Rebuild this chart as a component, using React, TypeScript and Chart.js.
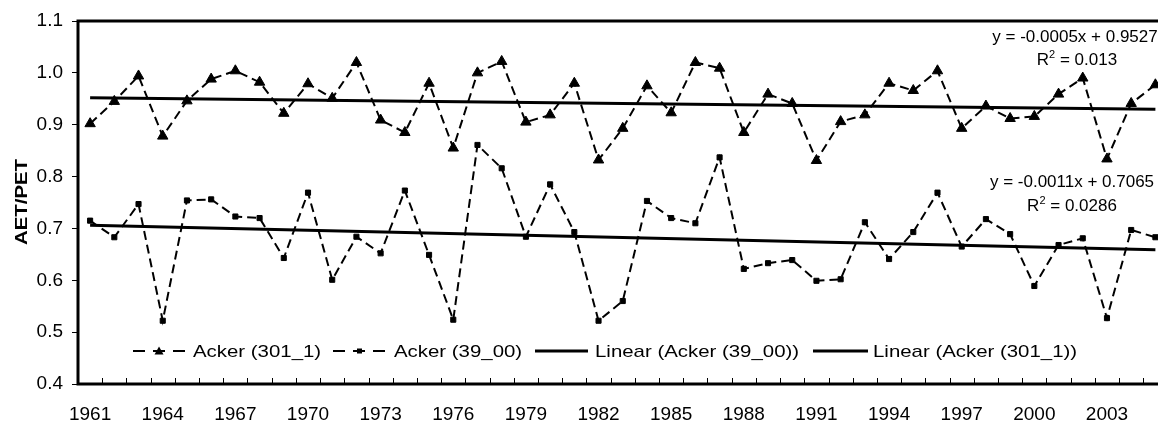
import React, { useEffect, useRef } from 'react';
import { Chart, registerables } from 'chart.js';

Chart.register(...registerables);

const FONT = '"Liberation Sans", Arial, sans-serif';

const years = [
  '1961', '1962', '1963', '1964', '1965', '1966', '1967', '1968', '1969', '1970',
  '1971', '1972', '1973', '1974', '1975', '1976', '1977', '1978', '1979', '1980',
  '1981', '1982', '1983', '1984', '1985', '1986', '1987', '1988', '1989', '1990',
  '1991', '1992', '1993', '1994', '1995', '1996', '1997', '1998', '1999', '2000',
  '2001', '2002', '2003', '2004', '2005',
];

const acker301 = [
  0.902, 0.945, 0.994, 0.878, 0.946, 0.988, 1.004, 0.982, 0.922, 0.979,
  0.951, 1.020, 0.909, 0.885, 0.980, 0.855, 1.000, 1.022, 0.905, 0.919,
  0.980, 0.832, 0.893, 0.975, 0.923, 1.020, 1.009, 0.885, 0.959, 0.941,
  0.831, 0.906, 0.919, 0.980, 0.966, 1.004, 0.893, 0.936, 0.912, 0.916,
  0.959, 0.990, 0.834, 0.941, 0.977,
];

const acker3900 = [
  0.715, 0.683, 0.747, 0.522, 0.754, 0.756, 0.723, 0.720, 0.643, 0.769,
  0.601, 0.684, 0.652, 0.773, 0.649, 0.524, 0.861, 0.816, 0.684, 0.785,
  0.693, 0.522, 0.560, 0.753, 0.720, 0.710, 0.837, 0.622, 0.633, 0.639,
  0.599, 0.602, 0.712, 0.641, 0.693, 0.769, 0.665, 0.718, 0.689, 0.589,
  0.668, 0.681, 0.527, 0.697, 0.683,
];

// trend line end values (first and last year)
const trend301Ends = [0.952, 0.930];
const trend3900Ends = [0.706, 0.659];

const yTicks = [0.4, 0.5, 0.6, 0.7, 0.8, 0.9, 1.0, 1.1];

const legendLabels = [
  'Acker (301_1)',
  'Acker (39_00)',
  'Linear (Acker (39_00))',
  'Linear (Acker (301_1))',
];

const trendLabels301 = ['y = -0.0005x + 0.9527', '0.013'];
const trendLabels3900 = ['y = -0.0011x + 0.7065', '0.0286'];

function endsToSeries(ends: number[]) {
  return years.map((_, i) => (i === 0 ? ends[0] : i === years.length - 1 ? ends[1] : null));
}

function drawText(
  ctx: CanvasRenderingContext2D,
  text: string,
  x: number,
  y: number,
  font: string,
  align: CanvasTextAlign,
  sx = 1,
  rot = 0
) {
  ctx.save();
  ctx.translate(x, y);
  if (rot) ctx.rotate(rot);
  ctx.scale(sx, 1);
  ctx.font = font;
  ctx.textAlign = align;
  ctx.textBaseline = 'alphabetic';
  ctx.fillStyle = '#000';
  ctx.fillText(text, 0, 0);
  ctx.restore();
}

function drawR2(ctx: CanvasRenderingContext2D, value: string, cx: number, y: number) {
  const big = `17px ${FONT}`;
  const small = `11px ${FONT}`;
  ctx.save();
  ctx.font = big;
  const wR = ctx.measureText('R').width;
  const wRest = ctx.measureText(' = ' + value).width;
  ctx.font = small;
  const w2 = ctx.measureText('2').width;
  ctx.restore();
  const total = wR + w2 + wRest;
  let x = cx - total / 2;
  drawText(ctx, 'R', x, y, big, 'left');
  x += wR;
  drawText(ctx, '2', x, y - 7, small, 'left');
  x += w2;
  drawText(ctx, ' = ' + value, x, y, big, 'left');
}

const decorPlugin = {
  id: 'decor',
  afterDraw(chart: any) {
    const ctx: CanvasRenderingContext2D = chart.ctx;
    const { left, top, right, bottom } = chart.chartArea;
    const xs = chart.scales.x;

    // inner tick marks between categories on the x axis
    ctx.save();
    ctx.strokeStyle = '#000';
    ctx.lineWidth = 1;
    ctx.beginPath();
    for (let i = 1; i < years.length; i++) {
      const bx = Math.round((xs.getPixelForValue(i - 1) + xs.getPixelForValue(i)) / 2) + 0.5;
      ctx.moveTo(bx, bottom - 6);
      ctx.lineTo(bx, bottom);
    }
    ctx.stroke();

    // plot frame
    ctx.lineWidth = 3;
    ctx.strokeRect(left, top, right - left, bottom - top);
    ctx.restore();

    // y axis title
    drawText(ctx, 'AET/PET', 27, 202, `bold 17px ${FONT}`, 'center', 1.2, -Math.PI / 2);

    // trend line equations
    drawText(ctx, trendLabels301[0], 1075, 42, `17px ${FONT}`, 'center');
    drawR2(ctx, trendLabels301[1], 1077, 65);
    drawText(ctx, trendLabels3900[0], 1072, 187, `17px ${FONT}`, 'center');
    drawR2(ctx, trendLabels3900[1], 1072, 211);

    // legend
    const ly = 351;
    ctx.save();
    ctx.strokeStyle = '#000';
    ctx.fillStyle = '#000';
    ctx.lineWidth = 2;
    ctx.setLineDash([12, 8]);
    ctx.beginPath();
    ctx.moveTo(133, ly);
    ctx.lineTo(185, ly);
    ctx.moveTo(333, ly);
    ctx.lineTo(385, ly);
    ctx.stroke();
    ctx.setLineDash([]);
    ctx.beginPath();
    ctx.moveTo(159, ly - 4.5);
    ctx.lineTo(163.5, ly + 3.5);
    ctx.lineTo(154.5, ly + 3.5);
    ctx.closePath();
    ctx.fill();
    ctx.fillRect(357, ly - 2.5, 5, 5);
    ctx.lineWidth = 3;
    ctx.beginPath();
    ctx.moveTo(535, ly);
    ctx.lineTo(588, ly);
    ctx.moveTo(813, ly);
    ctx.lineTo(868, ly);
    ctx.stroke();
    ctx.restore();
    const lf = `17px ${FONT}`;
    drawText(ctx, legendLabels[0], 193, 357, lf, 'left', 1.2);
    drawText(ctx, legendLabels[1], 394, 357, lf, 'left', 1.2);
    drawText(ctx, legendLabels[2], 595, 357, lf, 'left', 1.2);
    drawText(ctx, legendLabels[3], 873, 357, lf, 'left', 1.2);
  },
};

export default function App() {
  const ref = useRef<HTMLCanvasElement | null>(null);

  useEffect(() => {
    if (!ref.current) return;
    const chart = new Chart(ref.current, {
      type: 'line',
      data: {
        labels: years,
        datasets: [
          {
            label: legendLabels[0],
            data: acker301,
            borderColor: '#000',
            backgroundColor: '#000',
            borderWidth: 2,
            borderDash: [9, 5],
            tension: 0,
            pointStyle: 'triangle',
            pointRadius: 6,
            pointBackgroundColor: '#000',
            pointBorderColor: '#000',
            pointBorderWidth: 1,
          },
          {
            label: legendLabels[1],
            data: acker3900,
            borderColor: '#000',
            backgroundColor: '#000',
            borderWidth: 2,
            borderDash: [9, 5],
            tension: 0,
            pointStyle: 'rect',
            pointRadius: 3.6,
            pointBackgroundColor: '#000',
            pointBorderColor: '#000',
            pointBorderWidth: 1,
          },
          {
            label: legendLabels[2],
            data: endsToSeries(trend3900Ends),
            borderColor: '#000',
            borderWidth: 3,
            pointRadius: 0,
            spanGaps: true,
            tension: 0,
          },
          {
            label: legendLabels[3],
            data: endsToSeries(trend301Ends),
            borderColor: '#000',
            borderWidth: 3,
            pointRadius: 0,
            spanGaps: true,
            tension: 0,
          },
        ],
      },
      options: {
        responsive: false,
        animation: false,
        layout: { padding: { left: 0, top: 21, right: 12.5, bottom: 0 } },
        plugins: {
          legend: { display: false },
          tooltip: { enabled: false },
        },
        scales: {
          x: {
            type: 'category',
            offset: true,
            grid: { display: false },
            border: { display: false },
            ticks: {
              autoSkip: false,
              maxRotation: 0,
              minRotation: 0,
              padding: 11,
              color: '#000',
              font: { family: FONT, size: 19 },
              callback: (_v: any, i: number) => (i % 3 === 0 ? years[i] : ''),
            },
            afterFit: (s: any) => {
              s.height = 39;
            },
          },
          y: {
            min: yTicks[0],
            max: yTicks[yTicks.length - 1],
            afterBuildTicks: (s: any) => {
              s.ticks = yTicks.map((v) => ({ value: v }));
            },
            ticks: {
              padding: 9,
              color: '#000',
              font: { family: FONT, size: 19 },
              callback: (v: any) => Number(v).toFixed(1),
            },
            grid: {
              drawOnChartArea: false,
              drawTicks: true,
              tickLength: 6,
              color: '#000',
              lineWidth: 1,
            },
            border: { display: false },
            afterFit: (s: any) => {
              s.width = 78;
            },
          },
        },
      },
      plugins: [decorPlugin],
    });
    return () => chart.destroy();
  }, []);

  return (
    <div
      style={{
        position: 'absolute',
        left: 0,
        top: 0,
        width: 1158,
        height: 423,
        overflow: 'hidden',
        background: '#fff',
      }}
    >
      <canvas ref={ref} width={1180} height={423} style={{ display: 'block' }} />
    </div>
  );
}
